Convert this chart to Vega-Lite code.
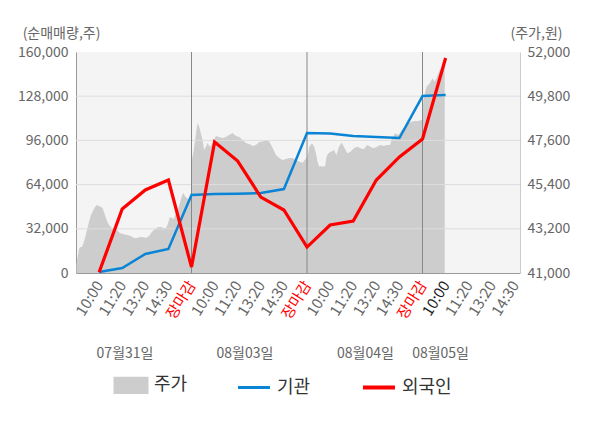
{
  "$schema": "https://vega.github.io/schema/vega-lite/v6.json",
  "width": 444,
  "height": 221,
  "autosize": {"type": "none"},
  "padding": {"left": 76, "top": 52, "right": 80, "bottom": 155},
  "background": "white",
  "config": {
    "view": {"fill": "#f4f4f4", "stroke": null},
    "font": "Noto Sans CJK KR",
    "axis": {"labelFont": "Noto Sans CJK KR", "titleFont": "Noto Sans CJK KR"},
    "legend": {
      "labelFont": "Noto Sans CJK KR", "orient": "none", "legendX": 46, "legendY": 324, "direction": "horizontal",
      "labelFontSize": 18, "labelColor": "#333333", "symbolSize": 1024, "labelOffset": 14, "columnPadding": 44,
      "symbolStrokeWidth": 3
    }
  },
  "datasets": {
    "price": [
      {"t": 0.02, "p": 41400}, {"t": 0.065, "p": 41750}, {"t": 0.13, "p": 42190}, {"t": 0.195, "p": 42290}, {"t": 0.26, "p": 42290},
      {"t": 0.325, "p": 42490}, {"t": 0.39, "p": 42740}, {"t": 0.476, "p": 43140}, {"t": 0.562, "p": 43540}, {"t": 0.649, "p": 43890},
      {"t": 0.735, "p": 44090}, {"t": 0.822, "p": 44290}, {"t": 0.908, "p": 44380}, {"t": 0.995, "p": 44330}, {"t": 1.081, "p": 44290},
      {"t": 1.146, "p": 44240}, {"t": 1.211, "p": 44040}, {"t": 1.297, "p": 43740}, {"t": 1.384, "p": 43490}, {"t": 1.47, "p": 43340},
      {"t": 1.557, "p": 43240}, {"t": 1.643, "p": 43240}, {"t": 1.73, "p": 43190}, {"t": 1.816, "p": 43090}, {"t": 1.903, "p": 42990},
      {"t": 2.032, "p": 42940}, {"t": 2.205, "p": 42890}, {"t": 2.378, "p": 42840}, {"t": 2.508, "p": 42740}, {"t": 2.638, "p": 42740},
      {"t": 2.768, "p": 42790}, {"t": 2.897, "p": 42790}, {"t": 3.027, "p": 42740}, {"t": 3.157, "p": 42840}, {"t": 3.286, "p": 43040},
      {"t": 3.416, "p": 43190}, {"t": 3.546, "p": 43290}, {"t": 3.676, "p": 43290}, {"t": 3.805, "p": 43240}, {"t": 3.892, "p": 43240},
      {"t": 3.978, "p": 43440}, {"t": 4.065, "p": 43790}, {"t": 4.151, "p": 43740}, {"t": 4.238, "p": 43690}, {"t": 4.324, "p": 44040},
      {"t": 4.411, "p": 44140}, {"t": 4.497, "p": 44480}, {"t": 4.584, "p": 44830}, {"t": 4.649, "p": 44980}, {"t": 4.714, "p": 44830},
      {"t": 4.8, "p": 44730}, {"t": 4.886, "p": 44630}, {"t": 4.97, "p": 44630},
      {"t": 5.013, "p": 46620}, {"t": 5.1, "p": 47120}, {"t": 5.186, "p": 47870}, {"t": 5.26, "p": 48470}, {"t": 5.33, "p": 48280},
      {"t": 5.403, "p": 47970}, {"t": 5.477, "p": 47620}, {"t": 5.546, "p": 47120}, {"t": 5.62, "p": 47270}, {"t": 5.694, "p": 47470},
      {"t": 5.794, "p": 47270}, {"t": 5.911, "p": 47470}, {"t": 6.054, "p": 47820}, {"t": 6.197, "p": 47770}, {"t": 6.344, "p": 47720},
      {"t": 6.487, "p": 47770}, {"t": 6.631, "p": 47870}, {"t": 6.778, "p": 47970}, {"t": 6.921, "p": 47820}, {"t": 7.064, "p": 47770},
      {"t": 7.212, "p": 47620}, {"t": 7.355, "p": 47470}, {"t": 7.498, "p": 47420}, {"t": 7.645, "p": 47320}, {"t": 7.789, "p": 47370},
      {"t": 7.931, "p": 47520}, {"t": 8.079, "p": 47540}, {"t": 8.222, "p": 47620}, {"t": 8.365, "p": 47540}, {"t": 8.513, "p": 47220},
      {"t": 8.656, "p": 46870}, {"t": 8.799, "p": 46720}, {"t": 8.946, "p": 46620}, {"t": 9.089, "p": 46670}, {"t": 9.233, "p": 46720},
      {"t": 9.38, "p": 46720}, {"t": 9.523, "p": 46620}, {"t": 9.666, "p": 46540}, {"t": 9.814, "p": 46490}, {"t": 9.926, "p": 46660},
      {"t": 9.978, "p": 46720},
      {"t": 10.021, "p": 46820}, {"t": 10.099, "p": 47290}, {"t": 10.214, "p": 47460}, {"t": 10.313, "p": 47290}, {"t": 10.386, "p": 46960},
      {"t": 10.458, "p": 46540}, {"t": 10.527, "p": 46290}, {"t": 10.6, "p": 46330}, {"t": 10.698, "p": 46290}, {"t": 10.784, "p": 46330},
      {"t": 10.844, "p": 46790}, {"t": 10.93, "p": 46960}, {"t": 11.028, "p": 47040}, {"t": 11.17, "p": 47120}, {"t": 11.272, "p": 46870},
      {"t": 11.384, "p": 47290}, {"t": 11.5, "p": 47490}, {"t": 11.598, "p": 47290}, {"t": 11.744, "p": 46960}, {"t": 11.885, "p": 47040},
      {"t": 12.027, "p": 47210}, {"t": 12.172, "p": 47290}, {"t": 12.314, "p": 47210}, {"t": 12.455, "p": 47160}, {"t": 12.601, "p": 47370},
      {"t": 12.742, "p": 47290}, {"t": 12.884, "p": 47210}, {"t": 13.03, "p": 47290}, {"t": 13.171, "p": 47370}, {"t": 13.312, "p": 47320},
      {"t": 13.458, "p": 47370}, {"t": 13.599, "p": 47370}, {"t": 13.672, "p": 47700}, {"t": 13.813, "p": 47950}, {"t": 13.955, "p": 47870},
      {"t": 14.1, "p": 48120}, {"t": 14.242, "p": 48280}, {"t": 14.383, "p": 48450}, {"t": 14.529, "p": 48530}, {"t": 14.67, "p": 48570},
      {"t": 14.812, "p": 48570}, {"t": 14.957, "p": 48620}, {"t": 14.991, "p": 48720},
      {"t": 15.034, "p": 49610}, {"t": 15.172, "p": 50270}, {"t": 15.315, "p": 50440}, {"t": 15.431, "p": 50690}, {"t": 15.53, "p": 50520},
      {"t": 15.629, "p": 50770}, {"t": 15.746, "p": 51100}, {"t": 15.862, "p": 51190}, {"t": 15.931, "p": 51350}, {"t": 15.961, "p": 51450}
    ],
    "flow": [
      {"t": 1, "series": "기관", "v": 700}, {"t": 2, "series": "기관", "v": 3600}, {"t": 3, "series": "기관", "v": 13750},
      {"t": 4, "series": "기관", "v": 17400}, {"t": 5, "series": "기관", "v": 56500}, {"t": 6, "series": "기관", "v": 57200},
      {"t": 7, "series": "기관", "v": 57400}, {"t": 8, "series": "기관", "v": 57900}, {"t": 9, "series": "기관", "v": 60800},
      {"t": 10, "series": "기관", "v": 101400}, {"t": 11, "series": "기관", "v": 101000}, {"t": 12, "series": "기관", "v": 99200},
      {"t": 13, "series": "기관", "v": 98500}, {"t": 14, "series": "기관", "v": 97700}, {"t": 15, "series": "기관", "v": 128100},
      {"t": 16, "series": "기관", "v": 128900},
      {"t": 1, "series": "외국인", "v": 500}, {"t": 2, "series": "외국인", "v": 46300}, {"t": 3, "series": "외국인", "v": 60100},
      {"t": 4, "series": "외국인", "v": 67300}, {"t": 5, "series": "외국인", "v": 4300}, {"t": 6, "series": "외국인", "v": 94800},
      {"t": 7, "series": "외국인", "v": 81000}, {"t": 8, "series": "외국인", "v": 55000}, {"t": 9, "series": "외국인", "v": 45600},
      {"t": 10, "series": "외국인", "v": 18800}, {"t": 11, "series": "외국인", "v": 34750}, {"t": 12, "series": "외국인", "v": 37600},
      {"t": 13, "series": "외국인", "v": 67300}, {"t": 14, "series": "외국인", "v": 84000}, {"t": 15, "series": "외국인", "v": 97000},
      {"t": 16, "series": "외국인", "v": 155700}
    ],
    "grid": [{"v": 32000}, {"v": 64000}, {"v": 96000}, {"v": 128000}],
    "days": [{"t": 5}, {"t": 10}, {"t": 15}]
  },
  "layer": [
    {
      "data": {"name": "price"},
      "mark": {"type": "area", "interpolate": "linear"},
      "encoding": {
        "x": {
          "field": "t", "type": "quantitative",
          "scale": {"domain": [0, 19.22], "nice": false, "zero": false},
          "axis": {
            "orient": "bottom",
            "values": [1, 2, 3, 4, 5, 6, 7, 8, 9, 10, 11, 12, 13, 14, 15, 16, 17, 18, 19],
            "labelExpr": "['','10:00','11:20','13:20','14:30','장마감','10:00','11:20','13:20','14:30','장마감','10:00','11:20','13:20','14:30','장마감','10:00','11:20','13:20','14:30'][datum.value]",
            "labelAngle": -58, "labelAlign": "right", "labelBaseline": "middle",
            "labelPadding": 9, "labelFontSize": 15,
            "labelColor": {"expr": "datum.value % 5 === 0 ? '#ff0000' : (datum.value === 16 ? '#222222' : '#666666')"},
            "labelOverlap": false, "labelFlush": false, "labelBound": false,
            "ticks": false, "grid": false, "domain": true, "domainColor": "#999999", "title": null
          }
        },
        "y": {
          "field": "p", "type": "quantitative",
          "scale": {"domain": [41000, 52000], "nice": false, "zero": false},
          "stack": null,
          "axis": {
            "orient": "right", "values": [41000, 43200, 45400, 47600, 49800, 52000], "format": ",d",
            "labelFontSize": 14, "labelColor": "#666666", "labelPadding": 7, "ticks": false, "grid": false,
            "domain": true, "domainColor": "#cccccc",
            "title": "(주가,원)", "titleAngle": 0, "titleX": 16, "titleY": -19, "titleAlign": "center",
            "titleBaseline": "middle", "titleFontSize": 14, "titleFontWeight": "normal", "titleColor": "#666666"
          }
        },
        "y2": {"datum": 41000},
        "color": {
          "datum": "주가", "type": "nominal",
          "scale": {"domain": ["주가", "기관", "외국인"], "range": ["#cdcdcd", "#0a84d4", "#ff0000"]},
          "legend": {
            "title": null,
            "encode": {
              "symbols": {
                "update": {
                  "shape": {"signal": "datum.value === '주가' ? 'M-1,-0.45L1,-0.45L1,0.45L-1,0.45Z' : 'stroke'"},
                  "fill": {"signal": "datum.value === '주가' ? '#cdcdcd' : 'transparent'"},
                  "stroke": {"signal": "datum.value === '주가' ? 'transparent' : (datum.value === '기관' ? '#0a84d4' : '#ff0000')"},
                  "strokeWidth": {"signal": "datum.value === '외국인' ? 4 : 3"},
                  "opacity": {"value": 1}
                }
              }
            }
          }
        }
      }
    },
    {
      "layer": [
        {
          "data": {"name": "grid"},
          "mark": {"type": "rule", "color": "#dddddd", "strokeWidth": 1},
          "encoding": {
            "y": {
              "field": "v", "type": "quantitative",
              "scale": {"domain": [0, 160000], "nice": false},
              "axis": {
                "values": [0, 32000, 64000, 96000, 128000, 160000], "format": ",d",
                "labelFontSize": 14, "labelColor": "#666666", "labelPadding": 8, "ticks": false, "grid": false,
                "domain": true, "domainColor": "#999999",
                "title": "(순매매량,주)", "titleAngle": 0, "titleX": -15, "titleY": -19, "titleAlign": "center",
                "titleBaseline": "middle", "titleFontSize": 14, "titleFontWeight": "normal", "titleColor": "#666666"
              }
            }
          }
        },
        {
          "data": {"name": "days"},
          "mark": {"type": "rule", "color": "#888888", "strokeWidth": 1},
          "encoding": {
            "x": {
              "field": "t", "type": "quantitative",
              "scale": {"domain": [0, 19.22], "nice": false, "zero": false},
              "axis": {
                "orient": "bottom",
                "values": [2.1, 7.29, 12.51, 15.76],
                "labelExpr": "datum.value < 5 ? '07월31일' : (datum.value < 10 ? '08월03일' : (datum.value < 15 ? '08월04일' : '08월05일'))",
                "labelAngle": 0, "labelAlign": "center", "labelBaseline": "middle", "labelPadding": 80,
                "labelFontSize": 14, "labelColor": "#666666", "labelOverlap": false, "labelFlush": false, "labelBound": false,
                "ticks": false, "grid": false, "domain": false, "title": null
              }
            }
          }
        },
        {
          "data": {"name": "flow"},
          "transform": [{"filter": "datum.series === '기관'"}],
          "mark": {"type": "line", "strokeWidth": 2.5},
          "encoding": {
            "x": {
              "field": "t", "type": "quantitative",
              "scale": {"domain": [0, 19.22], "nice": false, "zero": false},
              "axis": {
                "orient": "bottom",
                "values": [2.1, 7.29, 12.51, 15.76],
                "labelExpr": "datum.value < 5 ? '07월31일' : (datum.value < 10 ? '08월03일' : (datum.value < 15 ? '08월04일' : '08월05일'))",
                "labelAngle": 0, "labelAlign": "center", "labelBaseline": "middle", "labelPadding": 80,
                "labelFontSize": 14, "labelColor": "#666666", "labelOverlap": false, "labelFlush": false, "labelBound": false,
                "ticks": false, "grid": false, "domain": false, "title": null
              }
            },
            "y": {
              "field": "v", "type": "quantitative",
              "scale": {"domain": [0, 160000], "nice": false},
              "axis": {
                "values": [0, 32000, 64000, 96000, 128000, 160000], "format": ",d",
                "labelFontSize": 14, "labelColor": "#666666", "labelPadding": 8, "ticks": false, "grid": false,
                "domain": true, "domainColor": "#999999",
                "title": "(순매매량,주)", "titleAngle": 0, "titleX": -15, "titleY": -19, "titleAlign": "center",
                "titleBaseline": "middle", "titleFontSize": 14, "titleFontWeight": "normal", "titleColor": "#666666"
              }
            },
            "color": {"field": "series", "type": "nominal", "legend": {"title": null}}
          }
        },
        {
          "data": {"name": "flow"},
          "transform": [{"filter": "datum.series === '외국인'"}],
          "mark": {"type": "line", "strokeWidth": 3.2},
          "encoding": {
            "x": {
              "field": "t", "type": "quantitative",
              "scale": {"domain": [0, 19.22], "nice": false, "zero": false},
              "axis": {
                "orient": "bottom",
                "values": [2.1, 7.29, 12.51, 15.76],
                "labelExpr": "datum.value < 5 ? '07월31일' : (datum.value < 10 ? '08월03일' : (datum.value < 15 ? '08월04일' : '08월05일'))",
                "labelAngle": 0, "labelAlign": "center", "labelBaseline": "middle", "labelPadding": 80,
                "labelFontSize": 14, "labelColor": "#666666", "labelOverlap": false, "labelFlush": false, "labelBound": false,
                "ticks": false, "grid": false, "domain": false, "title": null
              }
            },
            "y": {
              "field": "v", "type": "quantitative",
              "scale": {"domain": [0, 160000], "nice": false},
              "axis": {
                "values": [0, 32000, 64000, 96000, 128000, 160000], "format": ",d",
                "labelFontSize": 14, "labelColor": "#666666", "labelPadding": 8, "ticks": false, "grid": false,
                "domain": true, "domainColor": "#999999",
                "title": "(순매매량,주)", "titleAngle": 0, "titleX": -15, "titleY": -19, "titleAlign": "center",
                "titleBaseline": "middle", "titleFontSize": 14, "titleFontWeight": "normal", "titleColor": "#666666"
              }
            },
            "color": {"field": "series", "type": "nominal", "legend": {"title": null}}
          }
        }
      ]
    }
  ],
  "resolve": {"scale": {"y": "independent"}, "axis": {"x": "independent"}}
}
